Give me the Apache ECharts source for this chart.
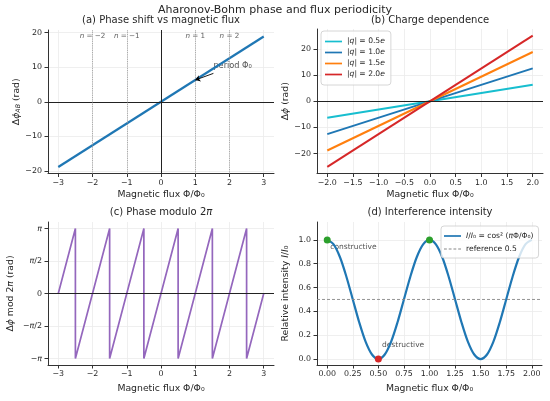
<!DOCTYPE html>
<html>
<head>
<meta charset="utf-8">
<script src="https://cdn.jsdelivr.net/npm/echarts@6/dist/echarts.min.js"></script>
<style>
  html, body { margin: 0; padding: 0; background: #fff; }
  #chart { width: 550px; height: 401px; }
</style>
</head>
<body>
<div id="chart"></div>
<script>
// (a) phase shift vs flux
const fluxA = [-3, 3];
const phaseA = [-18.85, 18.85];
const fringeOrders = [-2, -1, 1, 2];
const ticksAx = [-3, -2, -1, 0, 1, 2, 3];
const ticksAy = [-20, -10, 0, 10, 20];

// (b) charge dependence
const fluxB = [-2, 2];
const chargeNames = ['|q| = 0.5e', '|q| = 1.0e', '|q| = 1.5e', '|q| = 2.0e'];
const phaseB = [[-6.28, 6.28], [-12.57, 12.57], [-18.85, 18.85], [-25.13, 25.13]];
const ticksBx = [-2, -1.5, -1, -0.5, 0, 0.5, 1, 1.5, 2];
const ticksBy = [-20, -10, 0, 10, 20];

// (c) phase modulo 2pi, sawtooth corners
const fluxC = [-3, -2.5, -2.5, -1.5, -1.5, -0.5, -0.5, 0.5, 0.5, 1.5, 1.5, 2.5, 2.5, 3];
const phaseC = [0, 3.1416, -3.1416, 3.1416, -3.1416, 3.1416, -3.1416, 3.1416, -3.1416, 3.1416, -3.1416, 3.1416, -3.1416, 0];
const ticksCy = [-3.1416, -1.5708, 0, 1.5708, 3.1416];
const ticksCyLabels = ['−{i|π}', '−{i|π}/2', '0', '{i|π}/2', '{i|π}'];

// (d) interference intensity
const fluxD = [0, 0.0625, 0.125, 0.1875, 0.25, 0.3125, 0.375, 0.4375, 0.5, 0.5625, 0.625, 0.6875, 0.75, 0.8125, 0.875, 0.9375,
  1, 1.0625, 1.125, 1.1875, 1.25, 1.3125, 1.375, 1.4375, 1.5, 1.5625, 1.625, 1.6875, 1.75, 1.8125, 1.875, 1.9375, 2];
const intensityD = [1, 0.962, 0.854, 0.691, 0.5, 0.309, 0.146, 0.038, 0, 0.038, 0.146, 0.309, 0.5, 0.691, 0.854, 0.962,
  1, 0.962, 0.854, 0.691, 0.5, 0.309, 0.146, 0.038, 0, 0.038, 0.146, 0.309, 0.5, 0.691, 0.854, 0.962, 1];
const maxima = [[0, 1], [1, 1]];
const minima = [[0.5, 0]];
const referenceLevel = 0.5;
const ticksDx = [0, 0.25, 0.5, 0.75, 1, 1.25, 1.5, 1.75, 2];
const ticksDy = [0, 0.2, 0.4, 0.6, 0.8, 1.0];

const FONT = 'DejaVu Sans';
const TXT = '#262626';
const LINE_ICON = 'path://M0 0H20V2H0Z';
const DASH_ICON = 'path://M0 0H3V1H0Z M5 0H8V1H5Z M10 0H13V1H10Z M15 0H18V1H15Z';
const minus = s => String(s).replace('-', '−');
const pair = (xs, ys) => xs.map((x, i) => [x, ys[i]]);

function xAxis(grid, min, max, ticks, fmt, gap) {
  return {
    type: 'value', gridIndex: grid, min: min, max: max,
    name: 'Magnetic flux Φ/Φ₀', nameLocation: 'middle', nameGap: gap,
    nameTextStyle: { fontFamily: FONT, fontSize: 9.3, color: TXT },
    axisLine: { onZero: false, lineStyle: { color: '#333', width: 1 } },
    axisTick: { customValues: ticks, length: 3.5, lineStyle: { color: '#333' } },
    axisLabel: { customValues: ticks, formatter: fmt, margin: 5, fontFamily: FONT, fontSize: 7.9, color: TXT },
    splitLine: { show: true, lineStyle: { color: '#ebebeb', width: 0.8 } }
  };
}
function yAxis(grid, min, max, ticks, fmt, name, gap) {
  return {
    type: 'value', gridIndex: grid, min: min, max: max,
    name: name, nameLocation: 'middle', nameGap: gap, nameRotate: 90,
    nameTextStyle: { fontFamily: FONT, fontSize: 9.3, color: TXT,
      rich: { i: { fontFamily: FONT, fontSize: 9.3, fontStyle: 'italic', color: TXT },
              s: { fontFamily: FONT, fontSize: 6.3, fontStyle: 'italic', color: TXT, verticalAlign: 'bottom' } } },
    axisLine: { show: true, onZero: false, lineStyle: { color: '#333', width: 1 } },
    axisTick: { show: true, customValues: ticks, length: 3.5, lineStyle: { color: '#333' } },
    axisLabel: { customValues: ticks, formatter: fmt, margin: 6, fontFamily: FONT, fontSize: 7.9, color: TXT,
      rich: { i: { fontFamily: FONT, fontSize: 7.9, fontStyle: 'italic', color: TXT } } },
    splitLine: { show: true, lineStyle: { color: '#ebebeb', width: 0.8 } }
  };
}

const titleStyle = { fontFamily: FONT, fontSize: 10, fontWeight: 'normal', color: TXT,
  rich: { i: { fontFamily: FONT, fontSize: 10, fontStyle: 'italic', color: TXT } } };

const option = {
  animation: false,
  backgroundColor: '#fff',
  title: [
    { text: 'Aharonov-Bohm phase and flux periodicity', left: 275, top: 5, textAlign: 'center', padding: 0,
      textStyle: { fontFamily: FONT, fontSize: 11, fontWeight: 'normal', color: TXT } },
    { text: '(a) Phase shift vs magnetic flux', left: 161, top: 15, textAlign: 'center', padding: 0, textStyle: titleStyle },
    { text: '(b) Charge dependence', left: 430, top: 15, textAlign: 'center', padding: 0, textStyle: titleStyle },
    { text: '(c) Phase modulo 2{i|π}', left: 161, top: 207, textAlign: 'center', padding: 0, textStyle: titleStyle },
    { text: '(d) Interference intensity', left: 430, top: 207, textAlign: 'center', padding: 0, textStyle: titleStyle }
  ],
  grid: [
    { left: 48, top: 30, width: 226, height: 143.5 },
    { left: 317, top: 29, width: 226, height: 144.5 },
    { left: 48, top: 222, width: 226, height: 143 },
    { left: 317, top: 222, width: 225, height: 143 }
  ],
  legend: [
    { data: chargeNames.map(n => ({ name: n, icon: LINE_ICON })), orient: 'vertical', left: 321, top: 31,
      itemWidth: 17, itemHeight: 6, itemGap: 2,
      padding: [6, 6, 6, 4], borderColor: '#ccc', borderWidth: 0.8, borderRadius: 3,
      backgroundColor: 'rgba(255,255,255,0.8)',
      formatter: n => n.replace('q', '{i|q}').replace(/e$/, '{i|e}'),
      textStyle: { fontFamily: FONT, fontSize: 7.6, color: TXT, lineHeight: 9,
        rich: { i: { fontFamily: FONT, fontSize: 7.6, fontStyle: 'italic', color: TXT } } } },
    { data: [{ name: 'I/I0 = cos2(πΦ/Φ0)', icon: LINE_ICON }, { name: 'reference 0.5', icon: DASH_ICON }],
      orient: 'vertical', left: 441, top: 226, itemWidth: 17, itemHeight: 6, itemGap: 3,
      padding: [5, 5, 4, 3], borderColor: '#ccc', borderWidth: 0.8, borderRadius: 3,
      backgroundColor: 'rgba(255,255,255,0.8)',
      formatter: n => n === 'reference 0.5' ? n : '{i|I}/{i|I}₀ = cos² ({i|π}Φ/Φ₀)',
      textStyle: { fontFamily: FONT, fontSize: 7.6, color: TXT, lineHeight: 10,
        rich: { i: { fontFamily: FONT, fontSize: 7.6, fontStyle: 'italic', color: TXT } } } }
  ],
  xAxis: [
    xAxis(0, -3.3, 3.3, ticksAx, v => minus(v), 17),
    xAxis(1, -2.2, 2.2, ticksBx, v => minus(v.toFixed(1)), 17),
    xAxis(2, -3.3, 3.3, ticksAx, v => minus(v), 19),
    xAxis(3, -0.1, 2.1, ticksDx, v => v.toFixed(2), 19)
  ],
  yAxis: [
    yAxis(0, -20.74, 20.74, ticksAy, v => minus(v), 'Δ{i|ϕ}{s|AB} (rad)', 25),
    yAxis(1, -27.65, 27.65, ticksBy, v => minus(v), 'Δ{i|ϕ} (rad)', 25),
    yAxis(2, -3.456, 3.456, ticksCy, v => ticksCyLabels[ticksCy.findIndex(t => Math.abs(t - v) < 1e-3)] || '', 'Δ{i|ϕ} mod 2{i|π} (rad)', 33),
    yAxis(3, -0.05, 1.15, ticksDy, v => v.toFixed(1), 'Relative intensity {i|I}/{i|I}₀', 27)
  ],
  series: [
    // (a)
    { type: 'line', xAxisIndex: 0, yAxisIndex: 0, data: pair(fluxA, phaseA), symbol: 'none',
      lineStyle: { color: '#1f77b4', width: 2.2 }, z: 3,
      markLine: { silent: true, symbol: 'none', label: { show: false },
        data: [
          { yAxis: 0, lineStyle: { color: '#222', width: 1, type: 'solid' } },
          { xAxis: 0, lineStyle: { color: '#222', width: 1, type: 'solid' } }
        ].concat(fringeOrders.map(n => ({ xAxis: n, lineStyle: { color: '#999', width: 0.9, type: 'dotted' } })))
          .concat([[
            { coord: [1.53, 8.2], symbol: 'none', lineStyle: { color: '#000', width: 0.9, type: 'solid' } },
            { coord: [1, 6.28], symbol: 'arrow', symbolSize: 5 }
          ]])
      } },
    { type: 'scatter', xAxisIndex: 0, yAxisIndex: 0, symbolSize: 0, silent: true,
      data: fringeOrders.map(n => [n, 19]),
      label: { show: true, position: [0, 0], align: 'center', verticalAlign: 'middle',
        formatter: p => '{i|n} = ' + minus(p.value[0]),
        fontFamily: FONT, fontSize: 7.2, color: '#333',
        rich: { i: { fontFamily: FONT, fontSize: 7.2, fontStyle: 'italic', color: '#333' } } } },
    { type: 'scatter', xAxisIndex: 0, yAxisIndex: 0, symbolSize: 0, silent: true,
      data: [[1.53, 10.5]],
      label: { show: true, position: [0, 0], align: 'left', verticalAlign: 'middle',
        formatter: 'period Φ₀', fontFamily: FONT, fontSize: 8.2, color: TXT } },
    // (b)
    ...chargeNames.map((name, k) => ({
      type: 'line', name: name, xAxisIndex: 1, yAxisIndex: 1, data: pair(fluxB, phaseB[k]), symbol: 'none',
      lineStyle: { color: ['#17becf', '#1f77b4', '#ff7f0e', '#d62728'][k], width: 2 },
      itemStyle: { color: ['#17becf', '#1f77b4', '#ff7f0e', '#d62728'][k] },
      markLine: k === 0 ? { silent: true, symbol: 'none', label: { show: false },
        data: [{ yAxis: 0, lineStyle: { color: '#222', width: 1, type: 'solid' } }] } : undefined
    })),
    // (c)
    { type: 'line', xAxisIndex: 2, yAxisIndex: 2, data: pair(fluxC, phaseC), symbol: 'none',
      lineStyle: { color: '#9467bd', width: 1.7 },
      markLine: { silent: true, symbol: 'none', label: { show: false },
        data: [{ yAxis: 0, lineStyle: { color: '#222', width: 1, type: 'solid' } }] } },
    // (d)
    { type: 'line', name: 'I/I0 = cos2(πΦ/Φ0)', xAxisIndex: 3, yAxisIndex: 3, data: pair(fluxD, intensityD),
      symbol: 'none', smooth: 0.3, lineStyle: { color: '#1f77b4', width: 2.2 }, itemStyle: { color: '#1f77b4' } },
    { type: 'line', name: 'reference 0.5', xAxisIndex: 3, yAxisIndex: 3, data: [[-0.1, referenceLevel], [2.1, referenceLevel]],
      symbol: 'none', lineStyle: { color: '#888', width: 0.9, type: [3, 2] }, itemStyle: { color: '#888' } },
    { type: 'scatter', xAxisIndex: 3, yAxisIndex: 3, data: maxima, symbolSize: 7, itemStyle: { color: '#2ca02c', opacity: 1 }, z: 4 },
    { type: 'scatter', xAxisIndex: 3, yAxisIndex: 3, data: minima, symbolSize: 7, itemStyle: { color: '#d62728', opacity: 1 }, z: 4 },
    { type: 'scatter', xAxisIndex: 3, yAxisIndex: 3, symbolSize: 0, silent: true,
      data: [[0.03, 0.94, 'constructive'], [0.535, 0.117, 'destructive']],
      label: { show: true, position: [0, 0], align: 'left', verticalAlign: 'middle',
        formatter: p => p.value[2], fontFamily: FONT, fontSize: 7.5, color: TXT } }
  ]
};

const chart = echarts.init(document.getElementById('chart'), null, { renderer: 'canvas' });
chart.setOption(option);
</script>
</body>
</html>
